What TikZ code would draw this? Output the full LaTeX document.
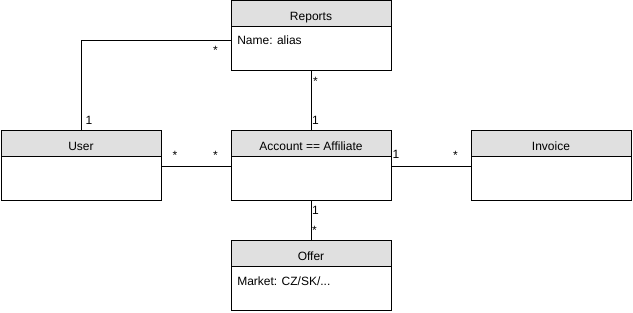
\documentclass[tikz,border=0pt]{standalone}
\usepackage{fontspec}
\setmainfont{Liberation Sans}
\usetikzlibrary{positioning}
\definecolor{headgray}{HTML}{E0E0E0}

\tikzset{
  classhead/.style={draw, fill=headgray, line width=0.75pt, minimum width=120pt,
      minimum height=19.5pt, inner sep=0pt, outer sep=0pt, text height=9.4pt, text depth=0pt,
      font=\fontsize{9}{11}\selectfont},
  classbody/.style={draw, line width=0.75pt, minimum width=120pt, minimum height=33pt,
      inner sep=0pt, outer sep=0pt, below=0pt of #1},
  attr/.style={anchor=base west, inner sep=0pt, font=\fontsize{9}{11}\selectfont},
  mult/.style={anchor=base, inner sep=0pt, font=\fontsize{9}{11}\selectfont},
  assoc/.style={line width=0.75pt}
}
\def\px {0.75pt}

\begin{document}
\begin{tikzpicture}[x=\px, y=-\px]
        \useasboundingbox (0,0) rectangle (633,313);
        % classes: header with name, empty body below
        \foreach \nm/\x/\y/\title in {rep/311/14/Reports, user/81/144/User,
            acc/311/144/Account == Affiliate, inv/551/144/Invoice, off/311/254/Offer} {
            \node[classhead] (\nm) at (\x,\y) {\title};
            \node[classbody=\nm] (\nm-b) {};
          }
        \node[attr] (rep-a) at (237,45) {Name: alias};
        \node[attr] (off-a) at (237,285.5) {Market: CZ/SK/...};

        % associations
        \draw[assoc] (user.north) |- ([yshift=-10.5pt]rep-b.north west);
        \draw[assoc] (rep-b.south) -- (acc.north);
        \draw[assoc] ([yshift=-7.5pt]user-b.north east) -- ([yshift=-7.5pt]acc-b.north west);
        \draw[assoc] ([yshift=-7.5pt]acc-b.north east) -- ([yshift=-7.5pt]inv-b.north west);
        \draw[assoc] (acc-b.south) -- (off.north);

        % multiplicities
        \foreach \nm/\x/\y/\m in {u1/89/125/1, r1/215.5/54.5/*, r2/315.5/85.5/*,
            a1/315.5/125/1, u2/175/159.5/*, a2/215.5/159.5/*, a3/396/159/1,
            i1/455.5/159.5/*, a4/315.5/215/1, o1/314.5/234.5/*} {
            \node[mult] (m-\nm) at (\x,\y) {\m};
          }
      \end{tikzpicture}
\end{document}
